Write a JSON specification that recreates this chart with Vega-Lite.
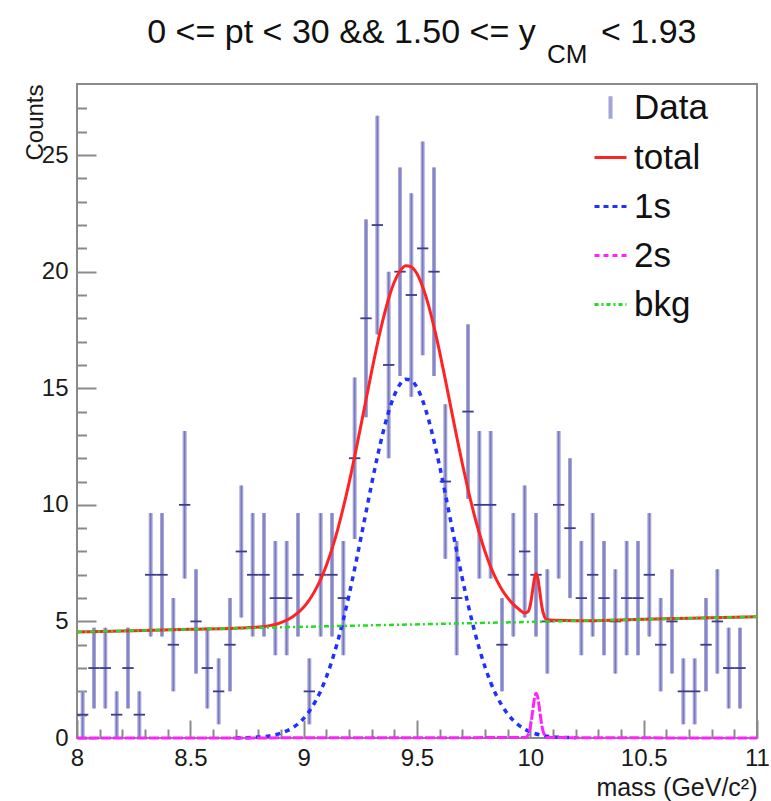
{
  "$schema": "https://vega.github.io/schema/vega-lite/v6.json",
  "width": 680,
  "height": 654,
  "autosize": "none",
  "padding": {"left": 77, "top": 84, "right": 14, "bottom": 63},
  "background": "white",
  "config": {
    "view": {"stroke": "#8a8a8a", "strokeWidth": 2},
    "font": "Liberation Sans",
    "axis": {"grid": false, "domain": false, "tickColor": "#8a8a8a", "tickWidth": 2, "labelFont": "Liberation Sans", "titleFont": "Liberation Sans", "labelColor": "#1a1a1a", "titleColor": "#1a1a1a", "titleFontWeight": "normal"},
    "legend": {"title": null}
  },
  "datasets": {
    "hist": [
      {"mass": 8.025, "count": 1, "lo": 0, "hi": 2, "xlo": 8.0, "xhi": 8.05},
      {"mass": 8.075, "count": 3, "lo": 1.268, "hi": 4.732, "xlo": 8.05, "xhi": 8.1},
      {"mass": 8.125, "count": 3, "lo": 1.268, "hi": 4.732, "xlo": 8.1, "xhi": 8.15},
      {"mass": 8.175, "count": 1, "lo": 0, "hi": 2, "xlo": 8.15, "xhi": 8.2},
      {"mass": 8.225, "count": 3, "lo": 1.268, "hi": 4.732, "xlo": 8.2, "xhi": 8.25},
      {"mass": 8.275, "count": 1, "lo": 0, "hi": 2, "xlo": 8.25, "xhi": 8.3},
      {"mass": 8.325, "count": 7, "lo": 4.354, "hi": 9.646, "xlo": 8.3, "xhi": 8.35},
      {"mass": 8.375, "count": 7, "lo": 4.354, "hi": 9.646, "xlo": 8.35, "xhi": 8.4},
      {"mass": 8.425, "count": 4, "lo": 2, "hi": 6, "xlo": 8.4, "xhi": 8.45},
      {"mass": 8.475, "count": 10, "lo": 6.838, "hi": 13.162, "xlo": 8.45, "xhi": 8.5},
      {"mass": 8.525, "count": 5, "lo": 2.764, "hi": 7.236, "xlo": 8.5, "xhi": 8.55},
      {"mass": 8.575, "count": 3, "lo": 1.268, "hi": 4.732, "xlo": 8.55, "xhi": 8.6},
      {"mass": 8.625, "count": 2, "lo": 0.586, "hi": 3.414, "xlo": 8.6, "xhi": 8.65},
      {"mass": 8.675, "count": 4, "lo": 2, "hi": 6, "xlo": 8.65, "xhi": 8.7},
      {"mass": 8.725, "count": 8, "lo": 5.172, "hi": 10.828, "xlo": 8.7, "xhi": 8.75},
      {"mass": 8.775, "count": 7, "lo": 4.354, "hi": 9.646, "xlo": 8.75, "xhi": 8.8},
      {"mass": 8.825, "count": 7, "lo": 4.354, "hi": 9.646, "xlo": 8.8, "xhi": 8.85},
      {"mass": 8.875, "count": 6, "lo": 3.551, "hi": 8.449, "xlo": 8.85, "xhi": 8.9},
      {"mass": 8.925, "count": 6, "lo": 3.551, "hi": 8.449, "xlo": 8.9, "xhi": 8.95},
      {"mass": 8.975, "count": 7, "lo": 4.354, "hi": 9.646, "xlo": 8.95, "xhi": 9.0},
      {"mass": 9.025, "count": 2, "lo": 0.586, "hi": 3.414, "xlo": 9.0, "xhi": 9.05},
      {"mass": 9.075, "count": 7, "lo": 4.354, "hi": 9.646, "xlo": 9.05, "xhi": 9.1},
      {"mass": 9.125, "count": 7, "lo": 4.354, "hi": 9.646, "xlo": 9.1, "xhi": 9.15},
      {"mass": 9.175, "count": 6, "lo": 3.551, "hi": 8.449, "xlo": 9.15, "xhi": 9.2},
      {"mass": 9.225, "count": 12, "lo": 8.536, "hi": 15.464, "xlo": 9.2, "xhi": 9.25},
      {"mass": 9.275, "count": 18, "lo": 13.757, "hi": 22.243, "xlo": 9.25, "xhi": 9.3},
      {"mass": 9.325, "count": 22, "lo": 17.31, "hi": 26.69, "xlo": 9.3, "xhi": 9.35},
      {"mass": 9.375, "count": 16, "lo": 12, "hi": 20, "xlo": 9.35, "xhi": 9.4},
      {"mass": 9.425, "count": 20, "lo": 15.528, "hi": 24.472, "xlo": 9.4, "xhi": 9.45},
      {"mass": 9.475, "count": 19, "lo": 14.641, "hi": 23.359, "xlo": 9.45, "xhi": 9.5},
      {"mass": 9.525, "count": 21, "lo": 16.417, "hi": 25.583, "xlo": 9.5, "xhi": 9.55},
      {"mass": 9.575, "count": 20, "lo": 15.528, "hi": 24.472, "xlo": 9.55, "xhi": 9.6},
      {"mass": 9.625, "count": 11, "lo": 7.683, "hi": 14.317, "xlo": 9.6, "xhi": 9.65},
      {"mass": 9.675, "count": 6, "lo": 3.551, "hi": 8.449, "xlo": 9.65, "xhi": 9.7},
      {"mass": 9.725, "count": 14, "lo": 10.258, "hi": 17.742, "xlo": 9.7, "xhi": 9.75},
      {"mass": 9.775, "count": 10, "lo": 6.838, "hi": 13.162, "xlo": 9.75, "xhi": 9.8},
      {"mass": 9.825, "count": 10, "lo": 6.838, "hi": 13.162, "xlo": 9.8, "xhi": 9.85},
      {"mass": 9.875, "count": 4, "lo": 2, "hi": 6, "xlo": 9.85, "xhi": 9.9},
      {"mass": 9.925, "count": 7, "lo": 4.354, "hi": 9.646, "xlo": 9.9, "xhi": 9.95},
      {"mass": 9.975, "count": 8, "lo": 5.172, "hi": 10.828, "xlo": 9.95, "xhi": 10.0},
      {"mass": 10.025, "count": 7, "lo": 4.354, "hi": 9.646, "xlo": 10.0, "xhi": 10.05},
      {"mass": 10.075, "count": 5, "lo": 2.764, "hi": 7.236, "xlo": 10.05, "xhi": 10.1},
      {"mass": 10.125, "count": 10, "lo": 6.838, "hi": 13.162, "xlo": 10.1, "xhi": 10.15},
      {"mass": 10.175, "count": 9, "lo": 6, "hi": 12, "xlo": 10.15, "xhi": 10.2},
      {"mass": 10.225, "count": 6, "lo": 3.551, "hi": 8.449, "xlo": 10.2, "xhi": 10.25},
      {"mass": 10.275, "count": 7, "lo": 4.354, "hi": 9.646, "xlo": 10.25, "xhi": 10.3},
      {"mass": 10.325, "count": 6, "lo": 3.551, "hi": 8.449, "xlo": 10.3, "xhi": 10.35},
      {"mass": 10.375, "count": 5, "lo": 2.764, "hi": 7.236, "xlo": 10.35, "xhi": 10.4},
      {"mass": 10.425, "count": 6, "lo": 3.551, "hi": 8.449, "xlo": 10.4, "xhi": 10.45},
      {"mass": 10.475, "count": 6, "lo": 3.551, "hi": 8.449, "xlo": 10.45, "xhi": 10.5},
      {"mass": 10.525, "count": 7, "lo": 4.354, "hi": 9.646, "xlo": 10.5, "xhi": 10.55},
      {"mass": 10.575, "count": 4, "lo": 2, "hi": 6, "xlo": 10.55, "xhi": 10.6},
      {"mass": 10.625, "count": 5, "lo": 2.764, "hi": 7.236, "xlo": 10.6, "xhi": 10.65},
      {"mass": 10.675, "count": 2, "lo": 0.586, "hi": 3.414, "xlo": 10.65, "xhi": 10.7},
      {"mass": 10.725, "count": 2, "lo": 0.586, "hi": 3.414, "xlo": 10.7, "xhi": 10.75},
      {"mass": 10.775, "count": 4, "lo": 2, "hi": 6, "xlo": 10.75, "xhi": 10.8},
      {"mass": 10.825, "count": 5, "lo": 2.764, "hi": 7.236, "xlo": 10.8, "xhi": 10.85},
      {"mass": 10.875, "count": 3, "lo": 1.268, "hi": 4.732, "xlo": 10.85, "xhi": 10.9},
      {"mass": 10.925, "count": 3, "lo": 1.268, "hi": 4.732, "xlo": 10.9, "xhi": 10.95}
    ],
    "curves": [
      {"comp": "total", "mass": 8.0, "value": 4.55},
      {"comp": "total", "mass": 8.25, "value": 4.6},
      {"comp": "total", "mass": 8.5, "value": 4.66},
      {"comp": "total", "mass": 8.7, "value": 4.71},
      {"comp": "total", "mass": 8.75, "value": 4.73},
      {"comp": "total", "mass": 8.8, "value": 4.76},
      {"comp": "total", "mass": 8.85, "value": 4.82},
      {"comp": "total", "mass": 8.9, "value": 4.95},
      {"comp": "total", "mass": 8.95, "value": 5.19},
      {"comp": "total", "mass": 9.0, "value": 5.61},
      {"comp": "total", "mass": 9.025, "value": 5.92},
      {"comp": "total", "mass": 9.05, "value": 6.32},
      {"comp": "total", "mass": 9.075, "value": 6.8},
      {"comp": "total", "mass": 9.1, "value": 7.4},
      {"comp": "total", "mass": 9.125, "value": 8.11},
      {"comp": "total", "mass": 9.15, "value": 8.94},
      {"comp": "total", "mass": 9.175, "value": 9.89},
      {"comp": "total", "mass": 9.2, "value": 10.93},
      {"comp": "total", "mass": 9.225, "value": 12.08},
      {"comp": "total", "mass": 9.25, "value": 13.28},
      {"comp": "total", "mass": 9.275, "value": 14.51},
      {"comp": "total", "mass": 9.3, "value": 15.73},
      {"comp": "total", "mass": 9.325, "value": 16.89},
      {"comp": "total", "mass": 9.35, "value": 17.94},
      {"comp": "total", "mass": 9.375, "value": 18.85},
      {"comp": "total", "mass": 9.4, "value": 19.56},
      {"comp": "total", "mass": 9.425, "value": 20.03},
      {"comp": "total", "mass": 9.45, "value": 20.26},
      {"comp": "total", "mass": 9.475, "value": 20.21},
      {"comp": "total", "mass": 9.5, "value": 19.91},
      {"comp": "total", "mass": 9.525, "value": 19.35},
      {"comp": "total", "mass": 9.55, "value": 18.59},
      {"comp": "total", "mass": 9.575, "value": 17.63},
      {"comp": "total", "mass": 9.6, "value": 16.55},
      {"comp": "total", "mass": 9.625, "value": 15.37},
      {"comp": "total", "mass": 9.65, "value": 14.15},
      {"comp": "total", "mass": 9.675, "value": 12.93},
      {"comp": "total", "mass": 9.7, "value": 11.76},
      {"comp": "total", "mass": 9.725, "value": 10.67},
      {"comp": "total", "mass": 9.75, "value": 9.67},
      {"comp": "total", "mass": 9.775, "value": 8.78},
      {"comp": "total", "mass": 9.8, "value": 8.0},
      {"comp": "total", "mass": 9.825, "value": 7.34},
      {"comp": "total", "mass": 9.85, "value": 6.8},
      {"comp": "total", "mass": 9.875, "value": 6.36},
      {"comp": "total", "mass": 9.9, "value": 6.01},
      {"comp": "total", "mass": 9.925, "value": 5.73},
      {"comp": "total", "mass": 9.95, "value": 5.52},
      {"comp": "total", "mass": 9.975, "value": 5.36},
      {"comp": "total", "mass": 9.99, "value": 5.42},
      {"comp": "total", "mass": 10.0, "value": 5.71},
      {"comp": "total", "mass": 10.01, "value": 6.32},
      {"comp": "total", "mass": 10.018, "value": 6.84},
      {"comp": "total", "mass": 10.026, "value": 7.06},
      {"comp": "total", "mass": 10.034, "value": 6.81},
      {"comp": "total", "mass": 10.042, "value": 6.25},
      {"comp": "total", "mass": 10.052, "value": 5.57},
      {"comp": "total", "mass": 10.062, "value": 5.21},
      {"comp": "total", "mass": 10.072, "value": 5.08},
      {"comp": "total", "mass": 10.1, "value": 5.05},
      {"comp": "total", "mass": 10.2, "value": 5.03},
      {"comp": "total", "mass": 10.5, "value": 5.09},
      {"comp": "total", "mass": 11.0, "value": 5.2},
      {"comp": "1s", "mass": 8.7, "value": 0.005},
      {"comp": "1s", "mass": 8.75, "value": 0.015},
      {"comp": "1s", "mass": 8.8, "value": 0.04},
      {"comp": "1s", "mass": 8.85, "value": 0.09},
      {"comp": "1s", "mass": 8.9, "value": 0.21},
      {"comp": "1s", "mass": 8.95, "value": 0.43},
      {"comp": "1s", "mass": 9.0, "value": 0.84},
      {"comp": "1s", "mass": 9.025, "value": 1.15},
      {"comp": "1s", "mass": 9.05, "value": 1.54},
      {"comp": "1s", "mass": 9.075, "value": 2.02},
      {"comp": "1s", "mass": 9.1, "value": 2.61},
      {"comp": "1s", "mass": 9.125, "value": 3.32},
      {"comp": "1s", "mass": 9.15, "value": 4.14},
      {"comp": "1s", "mass": 9.175, "value": 5.08},
      {"comp": "1s", "mass": 9.2, "value": 6.12},
      {"comp": "1s", "mass": 9.225, "value": 7.26},
      {"comp": "1s", "mass": 9.25, "value": 8.46},
      {"comp": "1s", "mass": 9.275, "value": 9.68},
      {"comp": "1s", "mass": 9.3, "value": 10.9},
      {"comp": "1s", "mass": 9.325, "value": 12.05},
      {"comp": "1s", "mass": 9.35, "value": 13.1},
      {"comp": "1s", "mass": 9.375, "value": 14.0},
      {"comp": "1s", "mass": 9.4, "value": 14.7},
      {"comp": "1s", "mass": 9.425, "value": 15.17},
      {"comp": "1s", "mass": 9.45, "value": 15.39},
      {"comp": "1s", "mass": 9.475, "value": 15.34},
      {"comp": "1s", "mass": 9.5, "value": 15.03},
      {"comp": "1s", "mass": 9.525, "value": 14.47},
      {"comp": "1s", "mass": 9.55, "value": 13.7},
      {"comp": "1s", "mass": 9.575, "value": 12.74},
      {"comp": "1s", "mass": 9.6, "value": 11.65},
      {"comp": "1s", "mass": 9.625, "value": 10.47},
      {"comp": "1s", "mass": 9.65, "value": 9.24},
      {"comp": "1s", "mass": 9.675, "value": 8.02},
      {"comp": "1s", "mass": 9.7, "value": 6.84},
      {"comp": "1s", "mass": 9.725, "value": 5.74},
      {"comp": "1s", "mass": 9.75, "value": 4.73},
      {"comp": "1s", "mass": 9.775, "value": 3.83},
      {"comp": "1s", "mass": 9.8, "value": 3.05},
      {"comp": "1s", "mass": 9.825, "value": 2.38},
      {"comp": "1s", "mass": 9.85, "value": 1.83},
      {"comp": "1s", "mass": 9.875, "value": 1.39},
      {"comp": "1s", "mass": 9.9, "value": 1.03},
      {"comp": "1s", "mass": 9.925, "value": 0.75},
      {"comp": "1s", "mass": 9.95, "value": 0.54},
      {"comp": "1s", "mass": 9.975, "value": 0.38},
      {"comp": "1s", "mass": 10.0, "value": 0.26},
      {"comp": "1s", "mass": 10.05, "value": 0.12},
      {"comp": "1s", "mass": 10.1, "value": 0.05},
      {"comp": "1s", "mass": 10.2, "value": 0.01},
      {"comp": "2s", "mass": 8.0, "value": 0},
      {"comp": "2s", "mass": 9.98, "value": 0.02},
      {"comp": "2s", "mass": 9.99, "value": 0.13},
      {"comp": "2s", "mass": 10.0, "value": 0.47},
      {"comp": "2s", "mass": 10.01, "value": 1.13},
      {"comp": "2s", "mass": 10.018, "value": 1.68},
      {"comp": "2s", "mass": 10.026, "value": 1.92},
      {"comp": "2s", "mass": 10.034, "value": 1.68},
      {"comp": "2s", "mass": 10.042, "value": 1.13},
      {"comp": "2s", "mass": 10.052, "value": 0.47},
      {"comp": "2s", "mass": 10.062, "value": 0.13},
      {"comp": "2s", "mass": 10.072, "value": 0.02},
      {"comp": "2s", "mass": 11.0, "value": 0},
      {"comp": "bkg", "mass": 8.0, "value": 4.55},
      {"comp": "bkg", "mass": 9.0, "value": 4.77},
      {"comp": "bkg", "mass": 10.0, "value": 4.98},
      {"comp": "bkg", "mass": 11.0, "value": 5.2}
    ]
  },
  "resolve": {"axis": {"x": "independent", "y": "independent"}},
  "layer": [
    {
      "data": {"name": "hist"},
      "mark": {"type": "rule", "strokeWidth": 4},
      "encoding": {
        "x": {
          "field": "mass", "type": "quantitative",
          "scale": {"domain": [8, 11], "nice": false, "zero": false},
          "axis": {"orient": "bottom", "values": [8, 8.5, 9, 9.5, 10, 10.5, 11], "format": "~g", "tickSize": -18, "labelPadding": 26, "labelFontSize": 24, "labelBaseline": "top", "labelFlush": false, "labelOverlap": false, "title": "mass (GeV/c²)", "titleFontSize": 25, "titleAlign": "right", "titleBaseline": "alphabetic", "titleX": 680, "titleY": 57}
        },
        "y": {
          "field": "lo", "type": "quantitative",
          "scale": {"domain": [0, 28.05], "nice": false, "zero": false},
          "axis": {"orient": "left", "values": [0, 5, 10, 15, 20, 25], "tickSize": -19, "labelPadding": 28, "labelFontSize": 24, "labelFlush": false, "labelOverlap": false, "title": "Counts", "titleFontSize": 24, "titleAngle": -90, "titleAlign": "right", "titleBaseline": "alphabetic", "titleX": -35, "titleY": 0}
        },
        "y2": {"field": "hi"},
        "color": {
          "datum": "Data", "type": "nominal", "title": null,
          "scale": {"domain": ["Data", "total", "1s", "2s", "bkg"], "range": ["#a3a4d8", "#ff2424", "#2030ff", "#ff22ff", "#22dd22"]},
          "legend": {
            "title": null, "orient": "none", "legendX": 516, "legendY": 6,
            "labelFontSize": 35, "labelFont": "Liberation Sans", "labelColor": "#111111",
            "symbolType": "stroke", "symbolSize": 1024, "symbolStrokeWidth": 3,
            "labelOffset": 6, "rowPadding": 13, "padding": 0,
            "encode": {
              "symbols": {
                "update": {
                  "shape": {"signal": "datum.value === 'Data' ? 'M0,-0.7L0,0.7' : 'stroke'"},
                  "strokeDash": {"signal": "datum.value === '1s' || datum.value === '2s' ? [5, 4] : datum.value === 'bkg' ? [4, 3, 2, 3] : [1, 0]"},
                  "strokeWidth": {"signal": "datum.value === 'Data' ? 4 : 3"}
                }
              }
            }
          }
        }
      }
    },
    {
      "data": {"name": "hist"},
      "mark": {"type": "rule", "strokeWidth": 1.2, "color": "#7474bd"},
      "encoding": {
        "x": {"field": "mass", "type": "quantitative", "axis": null},
        "y": {"field": "lo", "type": "quantitative", "axis": null},
        "y2": {"field": "hi"}
      }
    },
    {
      "data": {"name": "hist"},
      "mark": {"type": "rule", "strokeWidth": 1.8, "color": "#3c3c8c"},
      "encoding": {
        "x": {"field": "xlo", "type": "quantitative", "axis": null},
        "x2": {"field": "xhi"},
        "y": {"field": "count", "type": "quantitative", "axis": null}
      }
    },
    {
      "data": {"name": "curves"},
      "transform": [{"filter": "datum.comp === 'total'"}],
      "mark": {"type": "line", "strokeWidth": 3, "interpolate": "monotone"},
      "encoding": {
        "x": {"field": "mass", "type": "quantitative", "axis": null},
        "y": {"field": "value", "type": "quantitative", "axis": null},
        "color": {"field": "comp", "type": "nominal", "title": null}
      }
    },
    {
      "data": {"name": "curves"},
      "transform": [{"filter": "datum.comp === '1s'"}],
      "mark": {"type": "line", "strokeWidth": 3.5, "strokeDash": [5, 5], "interpolate": "monotone"},
      "encoding": {
        "x": {"field": "mass", "type": "quantitative", "axis": null},
        "y": {"field": "value", "type": "quantitative", "axis": null},
        "color": {"field": "comp", "type": "nominal", "title": null}
      }
    },
    {
      "data": {"name": "curves"},
      "transform": [{"filter": "datum.comp === '2s'"}],
      "mark": {"type": "line", "strokeWidth": 3, "strokeDash": [10, 2], "interpolate": "monotone"},
      "encoding": {
        "x": {"field": "mass", "type": "quantitative", "axis": null},
        "y": {"field": "value", "type": "quantitative", "axis": null},
        "color": {"field": "comp", "type": "nominal", "title": null}
      }
    },
    {
      "data": {"name": "curves"},
      "transform": [{"filter": "datum.comp === 'bkg'"}],
      "mark": {"type": "line", "strokeWidth": 2.5, "strokeDash": [5, 3, 2, 3]},
      "encoding": {
        "x": {"field": "mass", "type": "quantitative",
          "axis": {"orient": "bottom", "values": [8.1, 8.2, 8.3, 8.4, 8.6, 8.7, 8.8, 8.9, 9.1, 9.2, 9.3, 9.4, 9.6, 9.7, 9.8, 9.9, 10.1, 10.2, 10.3, 10.4, 10.6, 10.7, 10.8, 10.9], "tickSize": -9, "labels": false, "title": null}},
        "y": {"field": "value", "type": "quantitative",
          "axis": {"orient": "left", "values": [1, 2, 3, 4, 6, 7, 8, 9, 11, 12, 13, 14, 16, 17, 18, 19, 21, 22, 23, 24, 26, 27], "tickSize": -9.5, "labels": false, "title": null}},
        "color": {"field": "comp", "type": "nominal", "title": null}
      }
    },
    {
      "data": {"values": [{"label": "0 <= pt < 30 && 1.50 <= y"}]},
      "mark": {"type": "text", "align": "left", "baseline": "alphabetic", "fontSize": 34, "font": "Liberation Sans", "color": "#111111"},
      "encoding": {
        "x": {"datum": 8.31, "type": "quantitative", "axis": null},
        "y": {"datum": 29.82, "type": "quantitative", "axis": null},
        "text": {"field": "label"}
      }
    },
    {
      "data": {"values": [{"label": "CM"}]},
      "mark": {"type": "text", "align": "left", "baseline": "alphabetic", "fontSize": 26, "font": "Liberation Sans", "color": "#111111"},
      "encoding": {
        "x": {"datum": 10.0735, "type": "quantitative", "axis": null},
        "y": {"datum": 28.97, "type": "quantitative", "axis": null},
        "text": {"field": "label"}
      }
    },
    {
      "data": {"values": [{"label": "< 1.93"}]},
      "mark": {"type": "text", "align": "left", "baseline": "alphabetic", "fontSize": 34, "font": "Liberation Sans", "color": "#111111"},
      "encoding": {
        "x": {"datum": 10.312, "type": "quantitative", "axis": null},
        "y": {"datum": 29.82, "type": "quantitative", "axis": null},
        "text": {"field": "label"}
      }
    }
  ]
}
